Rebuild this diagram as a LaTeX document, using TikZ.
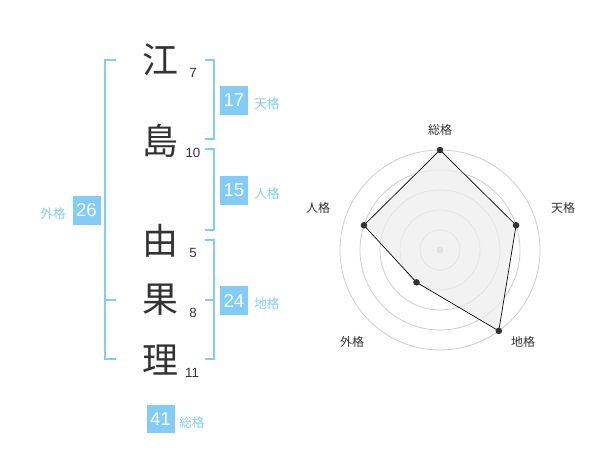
\documentclass[tikz,border=0pt]{standalone}
\usepackage{fontspec}
\setmainfont{Liberation Sans}
\newfontfamily\jpfont{Noto Sans CJK JP}
\definecolor{kakublue}{HTML}{82CCF7}
\definecolor{ink}{HTML}{333333}
\begin{document}
\begin{tikzpicture}[x=0.75pt, y=-0.75pt,
    kanji/.style={font=\jpfont\fontsize{27}{27}\selectfont, text=ink, inner sep=0pt},
    strokes/.style={font=\fontsize{10}{10}\selectfont, text=ink, inner sep=0pt},
    score/.style={fill=kakublue, text=white, font=\fontsize{14}{14}\selectfont,
      minimum width=21pt, minimum height=21.5pt, inner sep=0pt},
    kaku/.style={font=\jpfont\fontsize{9.5}{9.5}\selectfont, text=kakublue, inner sep=0pt},
    bracket/.style={draw=kakublue, line width=1.5pt},
    ring/.style={draw=gray!40, line width=0.6pt},
    axislabel/.style={font=\jpfont\fontsize{9}{9}\selectfont, text=ink, inner sep=0pt}]
  \useasboundingbox (0,0) rectangle (600,470);
  % name
  \node[kanji] (c1) at (160.5,60) {江};
  \node[kanji] (c2) at (160.5,141) {島};
  \node[kanji] (c3) at (160.5,241) {由};
  \node[kanji] (c4) at (160.5,300) {果};
  \node[kanji] (c5) at (160.5,360) {理};
  \node[strokes] (n1) at (193,73) {7};
  \node[strokes] (n2) at (193,153) {10};
  \node[strokes] (n3) at (193,253) {5};
  \node[strokes] (n4) at (193,313) {8};
  \node[strokes] (n5) at (192,373) {11};
  % brackets
  \draw[bracket] (205,60) -- (214,60) -- (214,139) -- (205,139);
  \draw[bracket] (205,149) -- (214,149) -- (214,230) -- (205,230);
  \draw[bracket] (205,240) -- (214,240) -- (214,359) -- (205,359);
  \draw[bracket] (205,300) -- (214,300);
  \draw[bracket] (116,60) -- (105,60) -- (105,359) -- (116,359);
  \draw[bracket] (105,300) -- (116,300);
  % scores
  \node[score] (ten) at (234,100.5) {17};
  \node[kaku, anchor=west] (tenl) at (254,104) {天格};
  \node[score] (jin) at (234,190.5) {15};
  \node[kaku, anchor=west] (jinl) at (254,194) {人格};
  \node[score] (chi) at (234,300.5) {24};
  \node[kaku, anchor=west] (chil) at (254,304) {地格};
  \node[score] (gai) at (86.5,210.5) {26};
  \node[kaku, anchor=east] (gail) at (66,214) {外格};
  \node[score] (sou) at (160.5,419) {41};
  \node[kaku, anchor=west] (soul) at (179,423) {総格};
  % radar
  \begin{scope}[shift={(440,250)}, yscale=-1]
    \foreach \r in {20,40,...,100}
      \draw[ring] (0,0) circle (\r);
    \fill[gray!40] (0,0) circle (3.5);
    \coordinate (psou) at (90:100);
    \coordinate (pten) at (18:80);
    \coordinate (pchi) at (-54:100);
    \coordinate (pgai) at (-126:40);
    \coordinate (pjin) at (162:80);
    \filldraw[fill=gray!14, fill opacity=0.7, draw=black, line width=0.5pt]
      (psou) -- (pten) -- (pchi) -- (pgai) -- (pjin) -- cycle;
    \foreach \p in {psou,pten,pchi,pgai,pjin}
      \fill[ink] (\p) circle (3.3);
    \node[axislabel] (lsou) at (0,120) {総格};
    \node[axislabel] (lten) at (123,42) {天格};
    \node[axislabel] (lchi) at (83,-92) {地格};
    \node[axislabel] (lgai) at (-88,-92) {外格};
    \node[axislabel] (ljin) at (-122,42) {人格};
  \end{scope}
\end{tikzpicture}
\end{document}
